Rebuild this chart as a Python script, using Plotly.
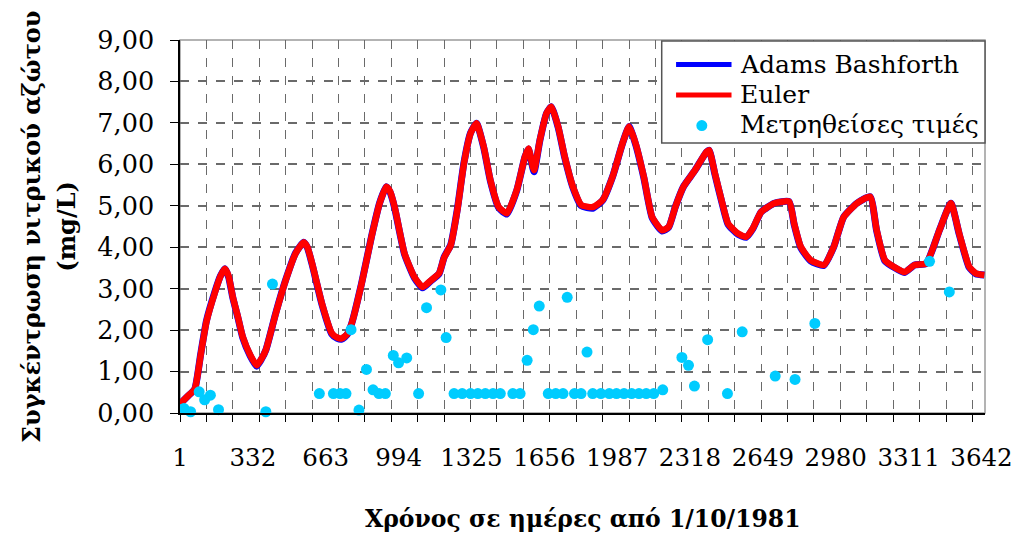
import plotly.graph_objects as go

# ---- data ----
curve_days = [1, 35, 68, 95, 121, 158, 185, 205, 222, 241, 265, 286, 320, 349, 370, 391,
              436, 481, 526, 563, 580, 601, 646, 691, 715, 736, 760, 781, 826, 871, 908,
              938, 955, 976, 1021, 1066, 1103, 1141, 1178, 1201, 1231, 1261, 1291, 1321,
              1348, 1381, 1411, 1449, 1486, 1531, 1568, 1584, 1609, 1636, 1666, 1688,
              1719, 1749, 1786, 1824, 1876, 1921, 1966, 2011, 2041, 2071, 2108, 2146,
              2191, 2221, 2251, 2288, 2341, 2393, 2405, 2431, 2461, 2491, 2536, 2573,
              2603, 2641, 2701, 2768, 2791, 2821, 2866, 2926, 2971, 3016, 3076, 3136,
              3166, 3203, 3256, 3293, 3338, 3391, 3451, 3503, 3541, 3586, 3616, 3655]

euler_vals = [0.22, 0.40, 0.58, 1.40, 2.20, 2.88, 3.30, 3.48, 3.30, 2.80, 2.30, 1.84, 1.40,
              1.15, 1.30, 1.52, 2.40, 3.20, 3.85, 4.12, 4.00, 3.61, 2.64, 1.92, 1.82, 1.80,
              1.90, 2.16, 3.12, 4.25, 5.06, 5.46, 5.35, 4.97, 3.85, 3.28, 3.04, 3.20, 3.37,
              3.75, 4.05, 4.90, 6.02, 6.75, 6.99, 6.42, 5.62, 4.97, 4.82, 5.38, 6.18, 6.38,
              5.86, 6.59, 7.23, 7.39, 6.91, 6.18, 5.46, 5.02, 4.97, 5.14, 5.70, 6.50, 6.91,
              6.50, 5.70, 4.73, 4.41, 4.49, 4.97, 5.46, 5.86, 6.30, 6.34, 5.78, 5.14, 4.57,
              4.33, 4.25, 4.45, 4.85, 5.06, 5.10, 4.57, 4.01, 3.69, 3.57, 4.01, 4.73, 5.06,
              5.22, 4.41, 3.69, 3.49, 3.40, 3.57, 3.61, 4.41, 5.06, 4.33, 3.53, 3.37, 3.33]

adams_vals = [0.22, 0.40, 0.58, 1.42, 2.22, 2.90, 3.31, 3.48, 3.28, 2.78, 2.28, 1.82, 1.38,
              1.13, 1.29, 1.52, 2.41, 3.21, 3.86, 4.12, 3.99, 3.59, 2.62, 1.90, 1.80, 1.78,
              1.89, 2.16, 3.13, 4.26, 5.07, 5.46, 5.33, 4.95, 3.83, 3.26, 3.02, 3.19, 3.36,
              3.76, 4.06, 4.92, 6.04, 6.76, 6.99, 6.40, 5.60, 4.95, 4.80, 5.37, 6.18, 6.37,
              5.82, 6.58, 7.23, 7.39, 6.89, 6.16, 5.44, 5.00, 4.94, 5.13, 5.70, 6.50, 6.91,
              6.48, 5.68, 4.71, 4.39, 4.48, 4.97, 5.46, 5.86, 6.30, 6.34, 5.76, 5.12, 4.55,
              4.31, 4.24, 4.44, 4.85, 5.06, 5.10, 4.55, 3.99, 3.67, 3.56, 4.01, 4.73, 5.06,
              5.22, 4.39, 3.67, 3.48, 3.39, 3.57, 3.61, 4.41, 5.06, 4.31, 3.51, 3.36, 3.33]

meas_days = [19, 49, 88, 113, 139, 176, 391, 421, 634, 698, 728, 755, 778, 814, 848, 878,
             905, 934, 970, 994, 1031, 1085, 1121, 1186, 1210, 1246, 1283, 1321, 1354, 1388,
             1423, 1456, 1513, 1546, 1578, 1606, 1633, 1674, 1708, 1741, 1760, 1793, 1823,
             1850, 1876, 1913, 1951, 1984, 2018, 2053, 2086, 2119, 2153, 2194, 2281, 2311,
             2338, 2398, 2488, 2555, 2705, 2795, 2885, 3406, 3496]
meas_vals = [0.11, 0.03, 0.51, 0.32, 0.43, 0.08, 0.03, 3.11, 0.47, 0.47, 0.47, 0.47, 2.01,
             0.07, 1.05, 0.56, 0.47, 0.47, 1.39, 1.21, 1.33, 0.47, 2.54, 2.97, 1.82, 0.47,
             0.47, 0.47, 0.47, 0.47, 0.47, 0.47, 0.47, 0.47, 1.27, 2.01, 2.58, 0.47, 0.47,
             0.47, 2.79, 0.47, 0.47, 1.47, 0.47, 0.47, 0.47, 0.47, 0.47, 0.47, 0.47, 0.47,
             0.47, 0.56, 1.34, 1.15, 0.65, 1.77, 0.47, 1.96, 0.89, 0.81, 2.16, 3.66, 2.92]

x_tick_vals = [1, 332, 663, 994, 1325, 1656, 1987, 2318, 2649, 2980, 3311, 3642]
x_tick_text = [str(v) for v in x_tick_vals]
y_tick_vals = [0, 1, 2, 3, 4, 5, 6, 7, 8, 9]
y_tick_text = ["0,00", "1,00", "2,00", "3,00", "4,00", "5,00", "6,00", "7,00", "8,00", "9,00"]

series_names = ["Adams Bashforth", "Euler", "Μετρηθείσες τιμές"]
x_title = "Χρόνος σε ημέρες από 1/10/1981"
y_title_1 = "Συγκέντρωση νιτρικού αζώτου"
y_title_2 = "(mg/L)"

FONT = "DejaVu Serif"
BLUE, RED, CYAN = "#0000FF", "#FF0000", "#00CCFF"

fig = go.Figure()
fig.add_trace(go.Scatter(x=curve_days, y=adams_vals, mode="lines", name=series_names[0],
                         line=dict(color=BLUE, width=7, shape="spline", smoothing=0.5)))
fig.add_trace(go.Scatter(x=curve_days, y=euler_vals, mode="lines", name=series_names[1],
                         line=dict(color=RED, width=6.5, shape="spline", smoothing=0.5)))
fig.add_trace(go.Scatter(x=meas_days, y=meas_vals, mode="markers", name=series_names[2],
                         marker=dict(color=CYAN, size=11), cliponaxis=False))

# plot-area geometry (pixels) used to place the hand-drawn legend and titles
L, R, T, B = 180, 993, 40, 412.7
W, H = R - L, B - T
def px(x):
    return (x - L) / W
def py(y):
    return (B - y) / H

grid_col = "#6a6a6a"
shapes = [
    dict(type="rect", xref="paper", yref="paper", x0=0, x1=1, y0=0, y1=1,
         line=dict(color="#9a9a9a", width=1.5), layer="below"),
    dict(type="rect", xref="paper", yref="paper", x0=px(666.5), x1=1, y0=py(143), y1=py(41),
         line=dict(color="#555555", width=1.5), fillcolor="white", layer="above"),
    dict(type="line", xref="paper", yref="paper", x0=px(681), x1=px(737), y0=py(64.5), y1=py(64.5),
         line=dict(color=BLUE, width=5)),
    dict(type="line", xref="paper", yref="paper", x0=px(681), x1=px(737), y0=py(95), y1=py(95),
         line=dict(color=RED, width=5)),
    dict(type="circle", xref="paper", yref="paper", xsizemode="pixel", ysizemode="pixel",
         xanchor=px(707), yanchor=py(125.5), x0=-5.5, x1=5.5, y0=-5.5, y1=5.5,
         fillcolor=CYAN, line=dict(width=0)),
]

legend_texts = []
for name, ycen in zip(series_names, [64, 94, 124]):
    legend_texts.append(dict(text=name, xref="paper", yref="paper", x=px(744), y=py(ycen),
                             xanchor="left", yanchor="middle", showarrow=False,
                             font=dict(family=FONT, size=25, color="black")))

fig.update_layout(
    width=1025, height=535,
    margin=dict(l=180, r=32, t=40, b=122),
    paper_bgcolor="white", plot_bgcolor="white",
    font=dict(family=FONT, size=25, color="black"),
    showlegend=False,
    xaxis=dict(range=[1, 3658], tickmode="array", tickvals=x_tick_vals, ticktext=x_tick_text,
               showgrid=False, zeroline=False, showline=True, linecolor="black", linewidth=1.5,
               ticks="outside", ticklen=7, tickcolor="rgba(0,0,0,0)", ticklabelstandoff=15,
               tickfont=dict(family=FONT, size=24.5),
               minor=dict(tick0=1, dtick=120, ticks="outside", ticklen=7, tickcolor="black",
                          tickwidth=1.2, showgrid=True, gridcolor=grid_col, gridwidth=1.3,
                          griddash="dash")),
    yaxis=dict(range=[0, 9], tickmode="array", tickvals=y_tick_vals, ticktext=y_tick_text,
               showgrid=True, gridcolor=grid_col, gridwidth=1.5, griddash="dash",
               zeroline=False, showline=True, linecolor="black", linewidth=1.5,
               ticks="outside", ticklen=8, tickcolor="black", tickwidth=1.2,
               ticklabelstandoff=11, tickfont=dict(family=FONT, size=25.5)),
    shapes=shapes,
    annotations=[
        dict(text="<b>" + x_title + "</b>", xref="paper", yref="paper", x=0.5, y=py(519),
             xanchor="center", yanchor="middle", showarrow=False,
             font=dict(family=FONT, size=23.5, color="black")),
        dict(text="<b>" + y_title_1 + "</b>", xref="paper", yref="paper", x=px(30), y=0.5,
             xanchor="center", yanchor="middle", textangle=-90, showarrow=False,
             font=dict(family=FONT, size=24, color="black")),
        dict(text="<b>" + y_title_2 + "</b>", xref="paper", yref="paper", x=px(65), y=0.5,
             xanchor="center", yanchor="middle", textangle=-90, showarrow=False,
             font=dict(family=FONT, size=24, color="black")),
    ] + legend_texts,
)

fig.write_html("out.html")
